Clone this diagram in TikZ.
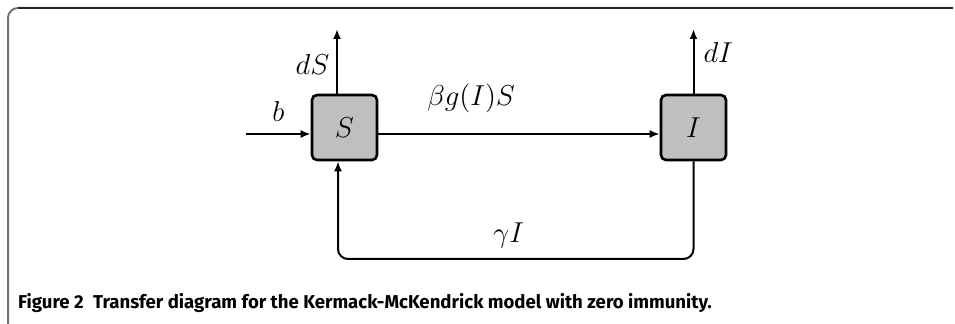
\documentclass[tikz,border=0pt]{standalone}
\usepackage{fontspec}
\newfontfamily\capfont{Fira Sans}
\usetikzlibrary{arrows.meta, positioning, calc}

\begin{document}
\begin{tikzpicture}[x=0.5pt, y=-0.5pt,
  every node/.style={font=\fontsize{14}{17}\selectfont},
  comp/.style={draw, line width=1.3pt, rounded corners=2.5pt, fill=gray!50, minimum size=32.5pt, inner sep=0pt},
  flow/.style={-{Latex[length=5pt,width=4pt]}, line width=1pt}]
\useasboundingbox (0,0) rectangle (955,324);
\draw[black!55, line width=1pt, rounded corners=5pt] (8,324) -- (8,8) -- (953,8);
\draw[black!85, line width=0.6pt] (18,8) -- (953,8);

\node (S) [comp] at (344.5,127.5) {$S$};
\node (I) [comp] at (693.5,127.5) {$I$};
\coordinate (inflow) at (246,134);
\coordinate (dSout) at (337,29);
\coordinate (dIout) at (693.5,29);
\coordinate (loopL) at (338,259);

\draw[flow] (inflow) -- node[above=2.3pt]{$b$} ($(S.west)+(0,6.5)$);
\draw[flow] ($(S.north)+(-7.5,0)$) -- node[left=0pt, pos=0.45]{$dS$} (dSout);
\draw[flow] (I.north) -- node[right=1.2pt, pos=0.64]{$dI$} (dIout);
\draw[flow] ($(S.east)+(0,6.5)$) -- node[above=6.7pt, pos=0.33]{$\beta g(I)S$} ($(I.west)+(0,6.5)$);
\draw[flow, rounded corners=5pt] (I.south) |- node[above=1.4pt, pos=0.76]{$\gamma I$} (loopL) -- (loopL |- S.south);

\node (caption) [anchor=west, font=\capfont\bfseries\fontsize{9.3}{11}\selectfont] at (11,303) {Figure 2\enspace Transfer diagram for the Kermack-McKendrick model with zero immunity.};
\end{tikzpicture}
\end{document}
